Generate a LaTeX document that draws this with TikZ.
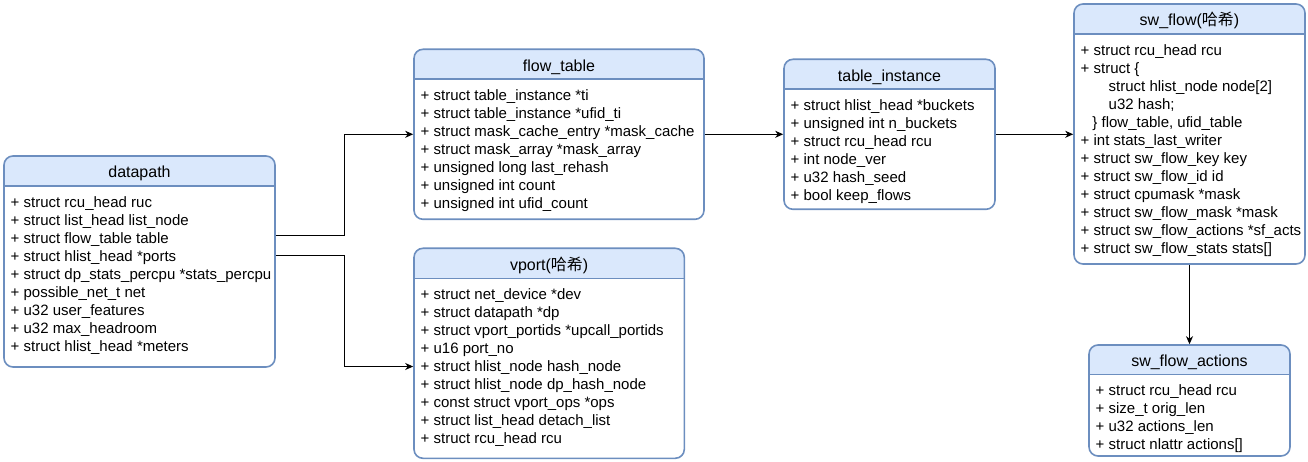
\documentclass[tikz,border=0pt]{standalone}
\usepackage{fontspec}
\setmainfont{Liberation Sans}
\newfontfamily\cjk{Noto Sans CJK SC}
\usetikzlibrary{arrows.meta}
\definecolor{hdrfill}{HTML}{DAE8FC}
\definecolor{hdrline}{HTML}{6C8EBF}
\tikzset{
  boxline/.style={draw=hdrline, line width=1.6pt},
  umlframe/.style={draw=hdrline, line width=1.6pt, rounded corners=9pt, inner sep=0pt, rectangle},
  titletext/.style={anchor=base, inner sep=0pt, font=\fontsize{16}{19}\selectfont},
  bodytext/.style={anchor=base west, inner sep=0pt, font=\fontsize{15}{18}\selectfont},
  arr/.style={draw=black, line width=1pt, -{Stealth[length=8pt,width=7pt,inset=2.5pt]}},
}
\newcommand\umlbox[8]{%
  \fill[white,rounded corners=9pt] (#2,#3) rectangle (#4,#6);
  \begin{scope}
    \clip[rounded corners=9pt] (#2,#3) rectangle (#4,#6);
    \fill[hdrfill] (#2,#3) rectangle (#4,#5);
  \end{scope}
  \draw[boxline] (#2,#5) -- (#4,#5);
  \node[umlframe, minimum width={#4-#2}, minimum height={#6-#3}] (#1) at ({(#2+#4)/2},{(#3+#6)/2}) {};
  \node[titletext] (#1-title) at ({(#2+#4)/2},{(#3+#5)/2+7}) {#7};
  \node[bodytext] (#1-body) at ({#2+6.5},{#5+21.5}) {\parbox[t]{320pt}{#8}};
}
\begin{document}
\begin{tikzpicture}[x=1pt,y=-1pt]
\useasboundingbox (0,0) rectangle (1308,462);

\umlbox{dp}{4}{156}{275}{186}{367}{datapath}{%
+ struct rcu\_head ruc\\
+ struct list\_head list\_node\\
+ struct flow\_table table\\
+ struct hlist\_head *ports\\
+ struct dp\_stats\_percpu *stats\_percpu\\
+ possible\_net\_t net\\
+ u32 user\_features\\
+ u32 max\_headroom\\
+ struct hlist\_head *meters}

\umlbox{ft}{414}{49.3}{704}{79.3}{219.3}{flow\_table}{%
+ struct table\_instance *ti\\
+ struct table\_instance *ufid\_ti\\
+ struct mask\_cache\_entry *mask\_cache\\
+ struct mask\_array *mask\_array\\
+ unsigned long last\_rehash\\
+ unsigned int count\\
+ unsigned int ufid\_count}

\umlbox{ti}{784}{59.3}{995}{89.3}{209.3}{table\_instance}{%
+ struct hlist\_head *buckets\\
+ unsigned int n\_buckets\\
+ struct rcu\_head rcu\\
+ int node\_ver\\
+ u32 hash\_seed\\
+ bool keep\_flows}

\umlbox{vp}{414}{248.3}{684.3}{278.3}{458.3}{vport({\cjk 哈希})}{%
+ struct net\_device *dev\\
+ struct datapath *dp\\
+ struct vport\_portids *upcall\_portids\\
+ u16 port\_no\\
+ struct hlist\_node hash\_node\\
+ struct hlist\_node dp\_hash\_node\\
+ const struct vport\_ops *ops\\
+ struct list\_head detach\_list\\
+ struct rcu\_head rcu}

\umlbox{sw}{1074}{4}{1305}{34}{264}{sw\_flow({\cjk 哈希})}{%
+ struct rcu\_head rcu\\
+ struct \{\\
\hspace*{28pt}struct hlist\_node node[2]\\
\hspace*{28pt}u32 hash;\\
\hspace*{11.7pt}\} flow\_table, ufid\_table\\
+ int stats\_last\_writer\\
+ struct sw\_flow\_key key\\
+ struct sw\_flow\_id id\\
+ struct cpumask *mask\\
+ struct sw\_flow\_mask *mask\\
+ struct sw\_flow\_actions *sf\_acts\\
+ struct sw\_flow\_stats stats[]}

\umlbox{swa}{1089}{345}{1290}{374.3}{456}{sw\_flow\_actions}{%
+ struct rcu\_head rcu\\
+ size\_t orig\_len\\
+ u32 actions\_len\\
+ struct nlattr actions[]}

\draw[arr] ([yshift=25.5pt]dp.east) -- ++(69,0) |- (ft.west);
\draw[arr] ([yshift=5.5pt]dp.east) -- ++(69,0) |- ([yshift=-13.2pt]vp.west);
\draw[arr] (ft.east) -- (ti.west);
\draw[arr] (ti.east) -- (ti.east -| sw.west);
\draw[arr] (sw.south) -- (swa.north);
\end{tikzpicture}
\end{document}
